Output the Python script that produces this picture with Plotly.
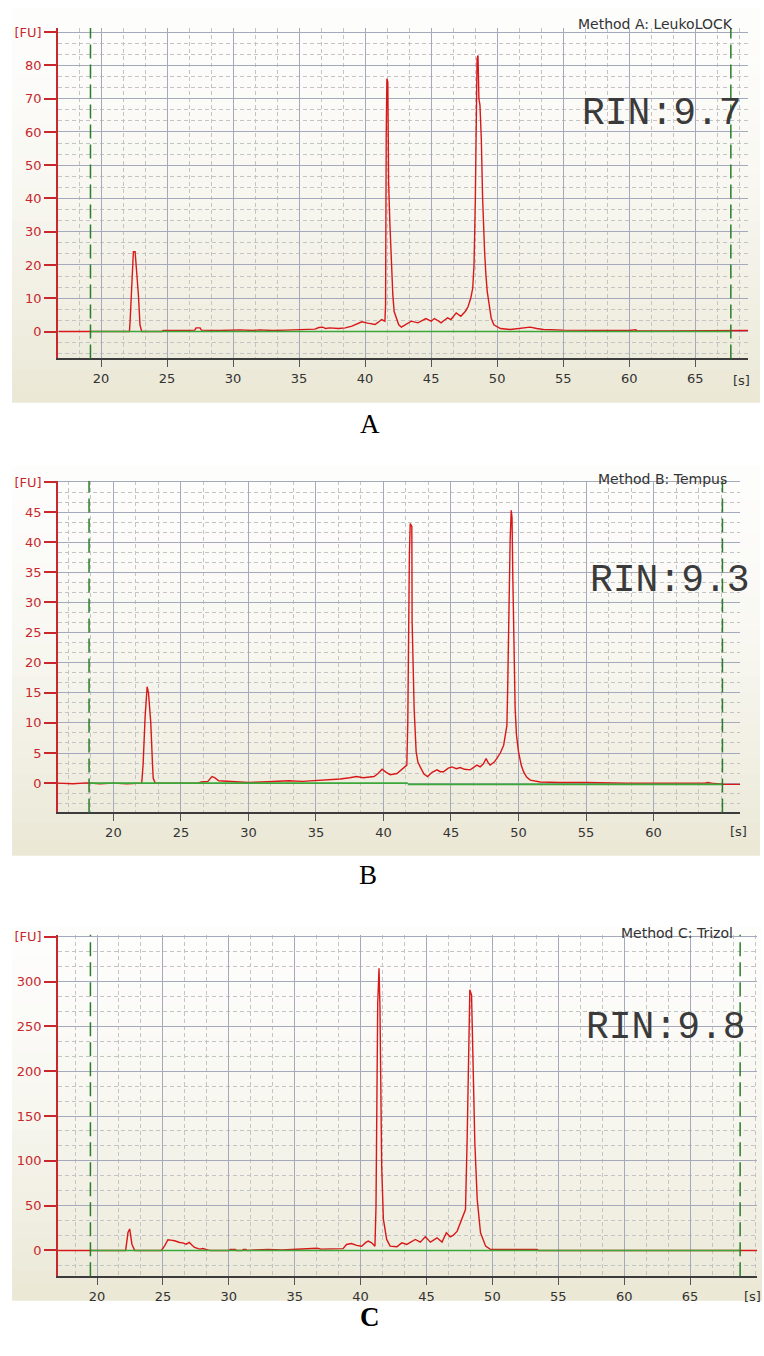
import plotly.graph_objects as go

# ---- data ----
a_time = [16.8, 19.0, 22.15, 22.2, 22.32, 22.45, 22.58, 22.7, 22.83, 22.95, 23.08, 24.6, 24.7, 26.0, 27.1, 27.2, 27.5,
          27.6, 29.0, 30.5, 31.5, 32.0, 33.0, 34.0, 35.3, 36.2, 36.5, 36.8, 37.0, 37.3, 38.0, 38.5, 39.0, 39.4, 39.75,
          40.2, 40.75, 41.0, 41.25, 41.5, 41.55, 41.6, 41.65, 41.72, 41.78, 41.87, 42.0, 42.1, 42.2, 42.35, 42.55,
          42.75, 43.1, 43.5, 44.0, 44.3, 44.6, 45.0, 45.25, 45.5, 45.75, 46.0, 46.25, 46.5, 46.9, 47.25, 47.6, 47.8,
          48.0, 48.15, 48.25, 48.35, 48.42, 48.48, 48.55, 48.62, 48.7, 48.8, 48.9, 48.95, 49.05, 49.15, 49.25, 49.4,
          49.55, 49.75, 50.25, 51.0, 51.5, 52.0, 52.5, 53.0, 53.5, 55.0, 57.0, 60.0, 60.5, 60.6, 63.0, 66.0, 67.0,
          68.0, 69.0]
a_fu = [0, 0, 0, 3, 16, 24, 24, 18.5, 11, 2, 0, 0, 0.3, 0.3, 0.4, 1.1, 1.1,
        0.4, 0.3, 0.5, 0.3, 0.5, 0.3, 0.4, 0.6, 0.7, 1.2, 1.3, 0.9, 1.1, 0.9, 1.1, 1.6, 2.3, 2.9,
        2.5, 2.1, 2.8, 3.6, 3.1, 8, 59, 76, 75, 45, 33, 19, 11, 6, 4, 2,
        1.3, 2.2, 3.1, 2.6, 3.2, 3.9, 3.1, 3.9, 3.3, 2.6, 3.4, 4.1, 3.6, 5.6, 4.6, 6.1, 7.5,
        10, 13, 20, 40, 59, 82, 83, 70, 68, 58, 40, 34, 24, 17, 12, 8,
        4, 2, 0.9, 0.6, 0.8, 1.1, 1.3, 0.9, 0.6, 0.4, 0.3, 0.3, 0.5, 0.2, 0.2, 0.2, 0.3,
        0.2, 0.3]

b_time = [15.9, 17.0, 18.0, 19.0, 20.0, 21.0, 22.1, 22.2, 22.35, 22.5, 22.6, 22.77, 22.9, 22.95, 23.1, 26.3, 26.5,
          27.0, 27.3, 27.5, 27.8, 29.0, 30.0, 31.0, 32.0, 33.0, 34.0, 35.0, 36.0, 36.8, 37.5, 38.0, 38.5, 39.0,
          39.3, 39.6, 39.9, 40.2, 40.5, 41.0, 41.48, 41.73, 41.8, 41.85, 41.92, 41.98, 42.05, 42.1, 42.12, 42.2,
          42.27, 42.42, 42.55, 42.72, 43.0, 43.26, 43.6, 43.96, 44.2, 44.44, 44.8, 45.07, 45.4, 45.68, 46.0, 46.42,
          46.7, 46.92, 47.16, 47.4, 47.6, 47.75, 47.9, 48.2, 48.4, 48.65, 48.9, 49.05, 49.14, 49.2, 49.26, 49.32,
          49.38, 49.46, 49.52, 49.58, 49.65, 49.75, 49.85, 50.0, 50.2, 50.37, 50.6, 50.87, 51.6, 53.0, 55.0, 57.0,
          58.0, 63.8, 64.0, 64.3, 65.2, 66.4]
b_fu = [0, -0.1, 0.05, -0.1, 0, -0.1, 0, 3, 11, 16, 15, 10, 3, 0.8, 0, 0, 0.2,
        0.3, 1.1, 0.9, 0.4, 0.2, 0.1, 0.2, 0.3, 0.4, 0.3, 0.4, 0.5, 0.7, 0.9, 1.1, 0.9, 1.0,
        1.1, 1.6, 2.3, 1.8, 1.4, 1.6, 2.5, 3.0, 10, 27, 38, 43.1, 42.8, 42.6, 27, 18,
        12.4, 5.2, 3.5, 2.7, 1.5, 1.1, 1.8, 2.2, 1.9, 1.9, 2.5, 2.7, 2.4, 2.6, 2.3, 2.2,
        2.6, 3.0, 2.7, 3.2, 4.1, 3.4, 3.0, 3.5, 4.1, 5.0, 6.3, 8, 9.6, 16, 25, 33,
        40.4, 45.3, 44, 33.8, 24, 12.4, 8, 5.2, 3, 1.9, 1.0, 0.5, 0.2, 0.1, 0.1, 0.05,
        0, 0, 0.1, 0, -0.2, -0.2]

c_time = [17.05, 19.0, 22.17, 22.3, 22.35, 22.48, 22.55, 22.65, 22.86, 24.88, 25.13, 25.38, 25.6, 25.89, 26.27,
          26.5, 26.77, 27.0, 27.2, 27.4, 27.8, 28.03, 28.4, 28.6, 30.0, 30.1, 30.5, 30.6, 31.0, 31.1, 31.3, 31.4,
          32.0, 33.0, 34.0, 35.0, 36.0, 36.7, 37.0, 37.66, 38.3, 38.67, 38.93, 39.3, 39.7, 40.08, 40.4, 40.58,
          40.84, 41.09, 41.17, 41.3, 41.4, 41.47, 41.6, 41.73, 41.98, 42.24, 42.75, 43.13, 43.51, 43.8, 44.15,
          44.53, 44.91, 45.3, 45.8, 46.18, 46.51, 46.8, 47.05, 47.33, 47.7, 47.96, 48.09, 48.21, 48.29, 48.42,
          48.55, 48.67, 48.85, 49.1, 49.49, 49.87, 51.0, 53.4, 53.5, 70.1]
c_fu = [0, 0, 0, 14, 20, 24, 18, 7, 0, 0, 5.2, 12, 11.5, 10.8, 8.9,
        8.5, 7, 9, 6, 3.3, 1.5, 2.2, 0.7, 0, 0, 1, 1, 0, 0, 1, 1, 0,
        0.5, 1, 0.5, 1, 1.5, 2.5, 1.5, 1.9, 2.5, 2, 6.7, 7.8, 5.6, 4.8, 9, 10.4,
        8.5, 4.8, 49, 276, 315, 272, 94, 35, 12.3, 4.8, 4.1, 8.5, 6.7, 9, 12.3,
        9.3, 15.2, 9.3, 14.1, 9.3, 19.7, 15.2, 17, 21.6, 34.6, 45.7, 127, 243, 291, 285,
        213, 120, 57, 19.7, 4.8, 1.1, 1.1, 1.1, 0, 0]

# baselines and marker (lower / upper) positions
a_base_t = [19.2, 67.7]
a_base_fu = [0, 0]
b_base_t = [18.2, 41.8, None, 41.8, 65.1]
b_base_fu = [0, 0, None, -0.2, -0.2]
c_base_t = [19.5, 68.8]
c_base_fu = [0, 0]

a_markers = [19.2, 67.7]
b_markers = [18.2, 65.1]
c_markers = [19.5, 68.8]

a_yticks = [0, 10, 20, 30, 40, 50, 60, 70, 80, 90]
b_yticks = [0, 5, 10, 15, 20, 25, 30, 35, 40, 45, 50]
c_yticks = [0, 50, 100, 150, 200, 250, 300, 350]
a_xticks = [20, 25, 30, 35, 40, 45, 50, 55, 60, 65]
b_xticks = [20, 25, 30, 35, 40, 45, 50, 55, 60]
c_xticks = [20, 25, 30, 35, 40, 45, 50, 55, 60, 65]

titles = ["Method A: LeukoLOCK", "Method B: Tempus", "Method C: Trizol"]
rin_labels = ["RIN:9.7", "RIN:9.3", "RIN:9.8"]
panel_letters = ["A", "B", "C"]

W, H = 764, 1356


def fx(p):
    return p / W


def fy(p):
    return 1 - p / H


# panel geometry in pixels: plot box, ranges, backdrop box, text spots
panels = [
    dict(box=(58, 748, 22, 354), xr=[16.74, 69.0], yr=[-8.1, 91.3], back=(12, 760, 2, 398),
         title=(735, 18), rin=(662, 108), s=(741, 376), letter=(370, 420), minor=10 / 3),
    dict(box=(58, 740, 477, 810), xr=[15.9, 66.4], yr=[-4.86, 50.18], back=(12, 760, 462, 853),
         title=(729, 475), rin=(670, 577), s=(738, 829), letter=(368, 873), minor=5 / 3),
    dict(box=(58, 757, 933, 1276), xr=[17.04, 70.08], yr=[-28.9, 352.2], back=(12, 762, 925, 1300),
         title=(735, 931), rin=(666, 1026), s=(752, 1296), letter=(370, 1317), minor=50 / 3),
]

series = [(a_time, a_fu, a_base_t, a_base_fu, a_markers, a_yticks, a_xticks),
          (b_time, b_fu, b_base_t, b_base_fu, b_markers, b_yticks, b_xticks),
          (c_time, c_fu, c_base_t, c_base_fu, c_markers, c_yticks, c_xticks)]

RED = '#d81818'
AXRED = '#c8282c'
GREEN = '#3aa83a'
DKGREEN = '#2a7d2a'

fig = go.Figure()
shapes = []
annotations = []
layout = dict(
    width=W, height=H,
    margin=dict(l=0, r=0, t=0, b=0),
    paper_bgcolor='white',
    plot_bgcolor='rgba(0,0,0,0)',
    showlegend=False,
    font=dict(family='DejaVu Sans', size=13, color='#333333'),
)

top_col = (253, 253, 252)
bot_col = (235, 232, 214)

for i, (p, (t, fu, bt, bfu, marks, yt, xt)) in enumerate(zip(panels, series)):
    n = '' if i == 0 else str(i + 1)
    xa, ya = 'x' + n, 'y' + n
    x0, x1, y0, y1 = p['box']

    # gradient backdrop
    bx0, bx1, by0, by1 = p['back']
    steps = 24
    for k in range(steps):
        f = (k / (steps - 1)) ** 1.5
        col = 'rgb(%d,%d,%d)' % tuple(round(top_col[j] + (bot_col[j] - top_col[j]) * f) for j in range(3))
        ya0 = by0 + (by1 - by0) * k / steps
        ya1 = by0 + (by1 - by0) * (k + 1) / steps + 0.6
        shapes.append(dict(type='rect', xref='paper', yref='paper', layer='below',
                           x0=fx(bx0), x1=fx(bx1), y0=fy(ya1), y1=fy(ya0),
                           fillcolor=col, line=dict(width=0)))

    fig.add_trace(go.Scatter(x=t, y=fu, mode='lines', xaxis=xa, yaxis=ya,
                             line=dict(color=RED, width=1.4)))
    fig.add_trace(go.Scatter(x=bt, y=bfu, mode='lines', xaxis=xa, yaxis=ya,
                             line=dict(color=GREEN, width=1.6)))

    for m in marks:
        shapes.append(dict(type='line', xref=xa, yref=ya + ' domain', x0=m, x1=m, y0=0, y1=1,
                           line=dict(color=DKGREEN, width=1.5, dash='14px,6px')))

    ytext = [str(v) for v in yt[:-1]] + ['[FU]']
    layout['xaxis' + n] = dict(
        domain=[fx(x0), fx(x1)], anchor=ya, range=p['xr'],
        tickvals=xt, ticks='outside', ticklen=7, tickcolor='#555555', tickwidth=1,
        tickfont=dict(family='DejaVu Sans', size=13, color='#333333'),
        showline=True, linecolor='#3c3c3c', linewidth=1.5,
        showgrid=True, gridcolor='#a4aabb', gridwidth=1, zeroline=False,
        minor=dict(dtick=5 / 3, tick0=0, showgrid=True, gridcolor='#c4c4c4', griddash='4px,3px', gridwidth=1),
    )
    layout['yaxis' + n] = dict(
        domain=[fy(y1), fy(y0)], anchor=xa, range=p['yr'],
        tickvals=yt, ticktext=ytext, ticks='outside', ticklen=12, tickcolor=AXRED, tickwidth=1.5,
        tickfont=dict(family='DejaVu Sans', size=13, color=AXRED),
        showline=True, linecolor=AXRED, linewidth=1.5,
        showgrid=True, gridcolor='#a4aabb', gridwidth=1, zeroline=False,
        minor=dict(dtick=p['minor'], tick0=0, showgrid=True, gridcolor='#c4c4c4', griddash='4px,3px', gridwidth=1),
    )

    tx, ty = p['title']
    annotations.append(dict(text=titles[i], xref='paper', yref='paper', x=fx(tx), y=fy(ty),
                            xanchor='right', yanchor='middle', showarrow=False,
                            font=dict(family='DejaVu Sans', size=14, color='#333333')))
    rx, ry = p['rin']
    annotations.append(dict(text=rin_labels[i], xref='paper', yref='paper', x=fx(rx), y=fy(ry),
                            xanchor='center', yanchor='middle', showarrow=False,
                            font=dict(family='Liberation Mono', size=38, color='#3a3a3a')))
    sx, sy = p['s']
    annotations.append(dict(text='[s]', xref='paper', yref='paper', x=fx(sx), y=fy(sy),
                            xanchor='center', yanchor='middle', showarrow=False,
                            font=dict(family='DejaVu Sans', size=13, color='#333333')))
    lx, ly = p['letter']
    letter = '<b>C</b>' if i == 2 else panel_letters[i]
    annotations.append(dict(text=letter, xref='paper', yref='paper', x=fx(lx), y=fy(ly),
                            xanchor='center', yanchor='middle', showarrow=False,
                            font=dict(family='Liberation Serif', size=27, color='#000000')))

layout['shapes'] = shapes
layout['annotations'] = annotations
fig.update_layout(**layout)

# the page body has a default 8px margin; drop it so the figure fills the window exactly
fig.write_html("out.html", config={'displayModeBar': False},
               post_script="document.body.style.margin='0';")
